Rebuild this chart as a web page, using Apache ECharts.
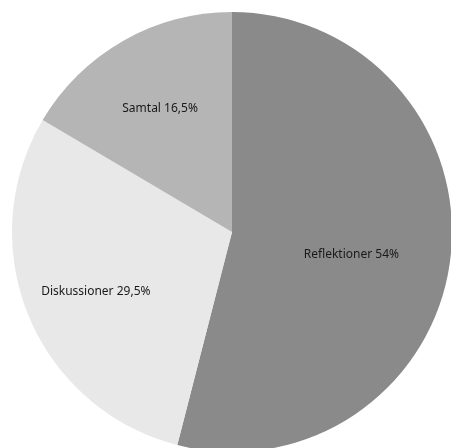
<!DOCTYPE html>
<html>
<head>
<meta charset="utf-8">
<script src="https://cdn.jsdelivr.net/npm/echarts@6/dist/echarts.min.js"></script>
<style>
html,body{margin:0;padding:0;background:#fff;}
#chart{width:451px;height:448px;}
</style>
</head>
<body>
<div id="chart"></div>
<script>
const categories = ['Reflektioner', 'Diskussioner', 'Samtal'];
const values = [54, 29.5, 16.5];

const colors = ['#8a8a8a', '#e8e8e8', '#b5b5b5'];
const labelFrac = [0.55, 0.67, 0.66];
const labelAngleShift = [0.04, 0, 0];
const CX = 232, CY = 232, R = 220;

const total = values.reduce((a, b) => a + b, 0);
const midAngles = [];
let acc = 0;
values.forEach(v => { midAngles.push((acc + v / 2) / total * 2 * Math.PI); acc += v; });

const chart = echarts.init(document.getElementById('chart'), null, {renderer: 'canvas'});
chart.setOption({
  animation: false,
  series: [{
    type: 'pie',
    silent: true,
    center: [CX, CY],
    radius: R,
    startAngle: 90,
    clockwise: true,
    itemStyle: { borderWidth: 0 },
    label: {
      show: true,
      position: 'inside',
      color: '#1a1a1a',
      fontSize: 12,
      fontFamily: 'Noto Sans',
      formatter: p => p.name + ' ' + String(p.value).replace('.', ',') + '%'
    },
    labelLine: { show: false },
    labelLayout: function (params) {
      const i = params.dataIndex;
      const a = midAngles[i] + labelAngleShift[i];
      return { x: CX + Math.sin(a) * R * labelFrac[i], y: CY - Math.cos(a) * R * labelFrac[i] + 3 };
    },
    data: categories.map((c, i) => ({ name: c, value: values[i], itemStyle: { color: colors[i] } }))
  }]
});
</script>
</body>
</html>
